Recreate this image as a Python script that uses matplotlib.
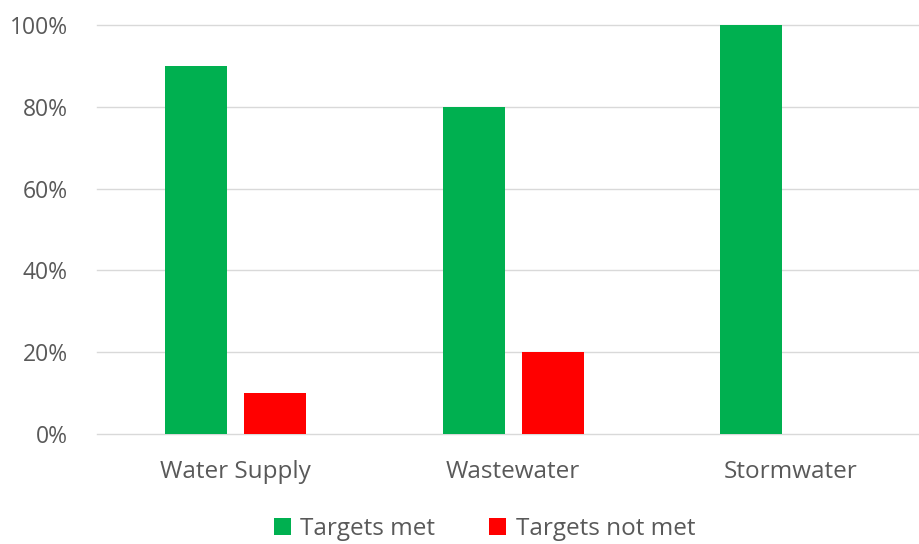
import numpy as np
import matplotlib.pyplot as plt
from matplotlib.ticker import PercentFormatter

categories = ["Water Supply", "Wastewater", "Stormwater"]
met = [0.90, 0.80, 1.00]
not_met = [0.10, 0.20, 0.00]

plt.rcParams['font.family'] = ['Open Sans', 'DejaVu Sans']

fig = plt.figure(figsize=(9.19, 5.44), dpi=100)
ax = fig.add_axes([97 / 919, 110 / 544, 1 - 97 / 919, 409 / 544])

x = np.arange(len(categories))
w = 0.2234
off = 0.1423
ax.bar(x - off, met, w, color='#00B050', label='Targets met', zorder=3)
ax.bar(x + off, not_met, w, color='#FF0000', label='Targets not met', zorder=3)

ax.set_xlim(-0.5, 2.463)
ax.set_ylim(0, 1)
ax.set_yticks(np.arange(0, 1.01, 0.2))
ax.yaxis.set_major_formatter(PercentFormatter(1.0, decimals=0))
ax.set_xticks(x)
ax.set_xticklabels(categories)

ax.grid(axis='y', color='#d9d9d9', linewidth=1, zorder=0)
for g in ax.get_ygridlines():
    g.set_clip_on(False)
for s in ax.spines.values():
    s.set_visible(False)
ax.tick_params(axis='y', length=0, labelsize=16.5, colors='#595959', pad=21)
ax.tick_params(axis='x', length=0, labelsize=17.5, colors='#595959', pad=19)

fig.legend(loc='lower center', bbox_to_anchor=(0.527, -0.035), ncol=2, frameon=False,
           fontsize=17.5, labelcolor='#595959', handlelength=0.7, handleheight=0.7,
           handletextpad=0.4, columnspacing=2.2)

fig.savefig('out.png', dpi=100)
